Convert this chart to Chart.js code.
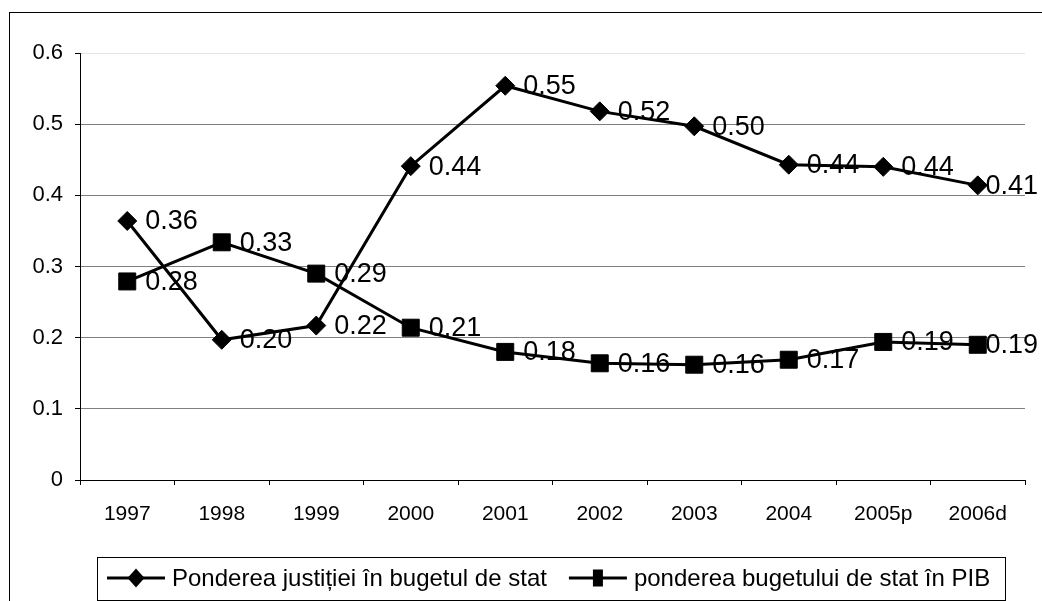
<!DOCTYPE html>
<html>
<head>
<meta charset="utf-8">
<script src="https://cdn.jsdelivr.net/npm/chart.js@4"></script>
<style>
  html, body { margin: 0; padding: 0; background: #fff; }
  #wrap { position: relative; width: 1042px; height: 601px; overflow: hidden; }
  #frame { position: absolute; left: 9px; top: 12px; width: 1100px; height: 700px; border: 1px solid #000; box-sizing: border-box; }
  #box { position: absolute; left: 0; top: 0; width: 1042px; height: 601px; }
</style>
</head>
<body>
<div id="wrap">
  <div id="frame"></div>
  <div id="box"><canvas id="chart"></canvas></div>
</div>
<script>
// categorii (ani)
const years = ['1997', '1998', '1999', '2000', '2001', '2002', '2003', '2004', '2005p', '2006d'];

// valori
const justitieValues = [0.364, 0.197, 0.217, 0.441, 0.554, 0.518, 0.497, 0.443, 0.440, 0.414];
const bugetValues = [0.279, 0.334, 0.290, 0.214, 0.180, 0.164, 0.162, 0.169, 0.194, 0.190];

const seriesLabels = ['Ponderea justiției în bugetul de stat', 'ponderea bugetului de stat în PIB'];
const yTicks = [0, 0.1, 0.2, 0.3, 0.4, 0.5, 0.6];

const FONT = '"Liberation Sans", Arial, sans-serif';

// etichete de valori langa fiecare punct
const valueLabels = {
  id: 'valueLabels',
  afterDatasetsDraw(chart) {
    const ctx = chart.ctx;
    ctx.save();
    ctx.font = '27px ' + FONT;
    ctx.fillStyle = '#000';
    ctx.textAlign = 'left';
    ctx.textBaseline = 'middle';
    chart.data.datasets.forEach((ds, i) => {
      const meta = chart.getDatasetMeta(i);
      meta.data.forEach((pt, j) => {
        const txt = ds.data[j].toFixed(2);
        const w = ctx.measureText(txt).width;
        // ca in Excel: eticheta ramane in interiorul graficului
        const x = Math.min(pt.x + 18, chart.width - 4 - w);
        ctx.fillText(txt, x, pt.y + 1);
      });
    });
    ctx.restore();
  }
};

// legenda in cadru, ca in original
const boxLegend = {
  id: 'boxLegend',
  afterDraw(chart) {
    const ctx = chart.ctx;
    ctx.save();
    ctx.strokeStyle = '#000';
    ctx.lineWidth = 1;
    ctx.strokeRect(97.5, 557.5, 908, 43);
    const cy = 578;
    ctx.font = '24px ' + FONT;
    ctx.textBaseline = 'middle';
    ctx.fillStyle = '#000';
    let x = 107;
    chart.data.datasets.forEach((ds, i) => {
      ctx.lineWidth = 3;
      ctx.beginPath();
      ctx.moveTo(x, cy);
      ctx.lineTo(x + 58, cy);
      ctx.stroke();
      const mx = x + 29;
      ctx.beginPath();
      if (ds.pointStyle === 'rectRot') {
        ctx.moveTo(mx - 8.5, cy);
        ctx.lineTo(mx, cy - 9.5);
        ctx.lineTo(mx + 8.5, cy);
        ctx.lineTo(mx, cy + 9.5);
        ctx.closePath();
      } else {
        ctx.rect(mx - 5, cy - 8.5, 10, 17);
      }
      ctx.fill();
      ctx.fillText(ds.label, x + 65, cy + 1);
      x += 65 + ctx.measureText(ds.label).width + 22;
    });
    ctx.restore();
  }
};

new Chart(document.getElementById('chart'), {
  type: 'line',
  data: {
    labels: years,
    datasets: [
      {
        label: seriesLabels[0],
        data: justitieValues,
        borderColor: '#000',
        backgroundColor: '#000',
        borderWidth: 3,
        pointStyle: 'rectRot',
        pointRadius: 9.5,
        pointBorderWidth: 1,
        pointBackgroundColor: '#000',
        pointBorderColor: '#000',
        tension: 0
      },
      {
        label: seriesLabels[1],
        data: bugetValues,
        borderColor: '#000',
        backgroundColor: '#000',
        borderWidth: 3,
        pointStyle: 'rect',
        pointRadius: 12,
        pointBorderWidth: 1,
        pointBackgroundColor: '#000',
        pointBorderColor: '#000',
        tension: 0
      }
    ]
  },
  options: {
    responsive: true,
    maintainAspectRatio: false,
    animation: false,
    layout: { padding: { left: 0, top: 53, right: 17, bottom: 0 } },
    plugins: {
      legend: { display: false },
      tooltip: { enabled: false }
    },
    scales: {
      x: {
        offset: true,
        afterFit: (s) => { s.height = 121; },
        grid: { offset: true, drawOnChartArea: false, drawTicks: true, tickLength: 5, tickColor: '#000' },
        border: { display: true, color: '#000', width: 1 },
        ticks: { color: '#000', font: { family: FONT, size: 21 }, padding: 17, maxRotation: 0, autoSkip: false }
      },
      y: {
        min: 0,
        max: 0.6,
        afterFit: (s) => { s.width = 80; },
        afterBuildTicks: (s) => { s.ticks = yTicks.map(v => ({ value: v })); },
        grid: {
          color: (c) => c.tick && c.tick.value === 0.6 ? '#e4e4e4' : '#808080',
          lineWidth: 1,
          tickLength: 5,
          tickColor: '#000'
        },
        border: { display: true, color: '#000', width: 1 },
        ticks: {
          color: '#000',
          font: { family: FONT, size: 22 },
          padding: 12,
          callback: (v) => v === 0 ? '0' : Number(v).toFixed(1)
        }
      }
    }
  },
  plugins: [valueLabels, boxLegend]
});
</script>
</body>
</html>
